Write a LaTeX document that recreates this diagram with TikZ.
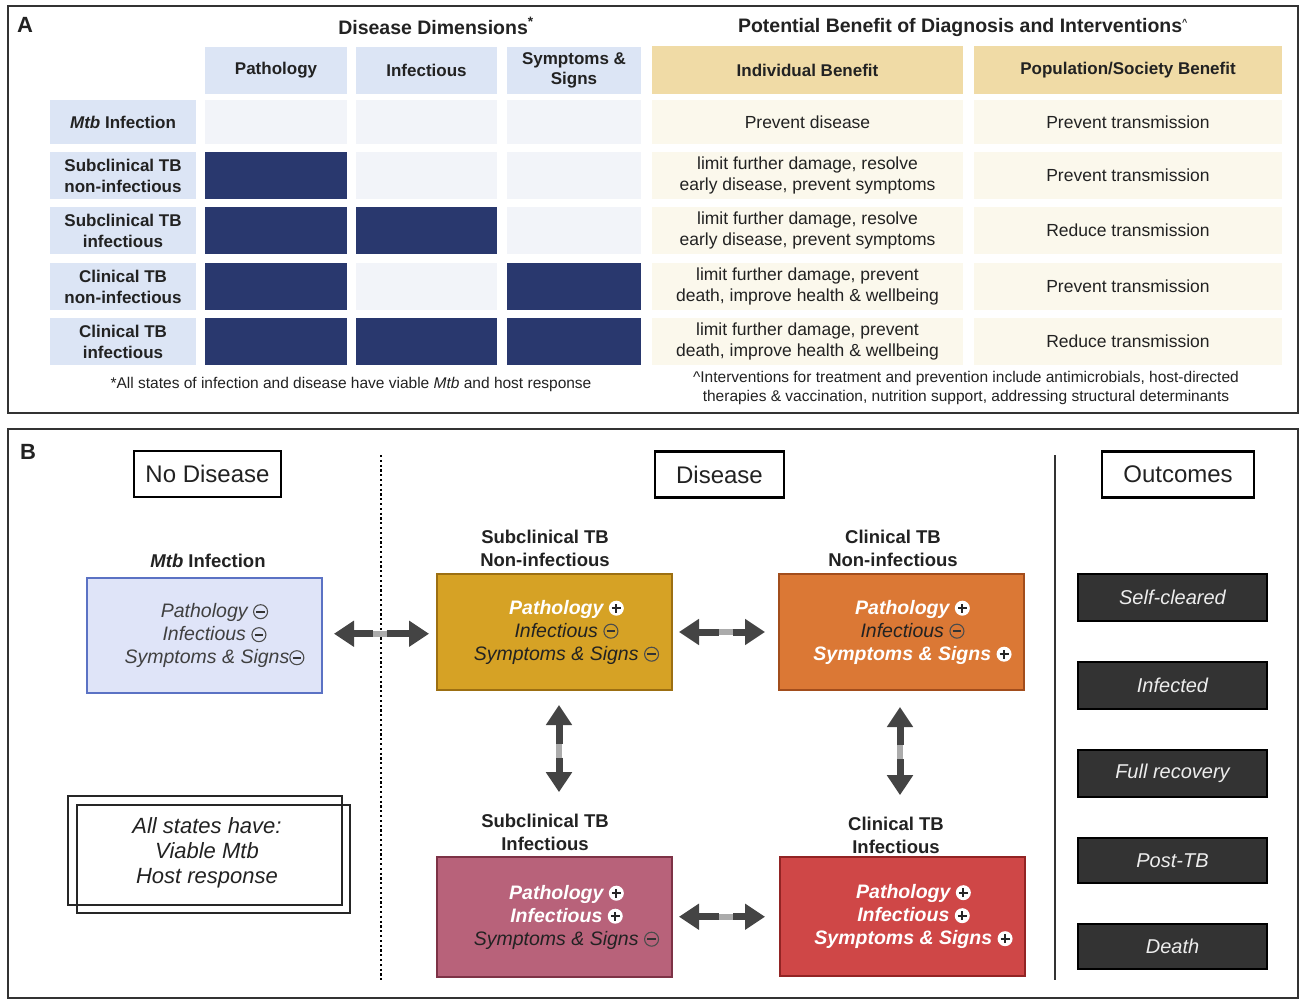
\documentclass[tikz,border=0pt]{standalone}
\usepackage{fontspec}
\setmainfont{Liberation Sans}
\usetikzlibrary{arrows.meta,calc}
\definecolor{frame}{HTML}{333333}
\definecolor{hdrblue}{HTML}{DCE5F5}
\definecolor{lightcell}{HTML}{F2F4F9}
\definecolor{navy}{HTML}{29386E}
\definecolor{tan}{HTML}{F0DBA6}
\definecolor{cream}{HTML}{FBF8EC}
\definecolor{txtdark}{HTML}{222222}
\definecolor{mtbfill}{HTML}{DFE4F8}
\definecolor{mtbdraw}{HTML}{5B72C4}
\definecolor{goldfill}{HTML}{D6A225}
\definecolor{golddraw}{HTML}{9C6F12}
\definecolor{orfill}{HTML}{DB7835}
\definecolor{ordraw}{HTML}{A24D1C}
\definecolor{maufill}{HTML}{B8627A}
\definecolor{maudraw}{HTML}{7D3246}
\definecolor{redfill}{HTML}{CF4747}
\definecolor{reddraw}{HTML}{922424}
\definecolor{outfill}{HTML}{333333}
\definecolor{arrcol}{HTML}{444444}
\newcommand{\pw}{\tikz[baseline=-0.3em]{\fill[white] (0pt,0pt) circle (7.5pt); \draw[line width=2pt, black!85] (-4.5pt,0pt)--(4.5pt,0pt) (0pt,-4.5pt)--(0pt,4.5pt);}}
\newcommand{\md}{\tikz[baseline=-0.3em]{\draw[line width=1.1pt, black!70] (0pt,0pt) circle (7pt); \draw[line width=1.8pt, black!80] (-4.2pt,0pt)--(4.2pt,0pt);}}
\begin{document}
\begin{tikzpicture}[x=1pt,y=-1pt,
  panel/.style={draw=frame, line width=2.8pt},
  cell/.style={inner sep=0pt, align=center, text=txtdark},
  hdr/.style={cell, font=\fontsize{17}{20}\selectfont\bfseries},
  rowlab/.style={cell, fill=hdrblue, minimum width=146pt, minimum height=47pt, font=\fontsize{17}{21}\selectfont\bfseries},
  ben/.style={cell, fill=cream, minimum height=47pt, font=\fontsize{17.5}{21}\selectfont},
  colP/.style={minimum width=142pt, minimum height=47pt},
  colI/.style={minimum width=141pt, minimum height=47pt},
  colS/.style={minimum width=134pt, minimum height=47pt},
  dark/.style={cell, fill=navy},
  light/.style={cell, fill=lightcell},
  title/.style={font=\fontsize{19.5}{23}\selectfont\bfseries, text=txtdark},
  foot/.style={align=center, font=\fontsize{15.5}{18.5}\selectfont, text=txtdark},
  secbox/.style={draw=black, line width=2.5pt, fill=white, minimum height=46pt, inner xsep=10pt, font=\fontsize{24}{28}\selectfont, text=txtdark},
  slabel/.style={align=center, font=\fontsize{18.5}{23}\selectfont\bfseries, text=txtdark},
  state/.style={line width=2pt, minimum width=235pt, inner sep=0pt},
  btxt/.style={align=center, font=\fontsize{19.5}{23}\selectfont\itshape, text=txtdark},
  outc/.style={fill=outfill, draw=black, line width=1.5pt, minimum width=189pt, minimum height=47pt, text=white!93!black, font=\fontsize{20}{24}\selectfont\itshape},
  arr/.style={draw=arrcol, line width=7pt, -{Triangle[length=20pt,width=25pt]}},
  bridge/.style={draw=arrcol!45, line width=6pt}
]
\useasboundingbox (0,0) rectangle (1301,1000);
\fill[white] (0,0) rectangle (1301,1000);

% ---------------- Panel A ----------------
\draw[panel] (8,6) rectangle (1298,413);
\node[font=\fontsize{22}{26}\selectfont\bfseries, text=txtdark] (labA) at (25,25) {A};
\node[title] (tDD) at (436,26) {Disease Dimensions\textsuperscript{*}};
\node[title] (tPB) at (963,28) {Potential Benefit of Diagnosis and Interventions\textsuperscript{\fontsize{9}{9}\selectfont\textasciicircum}};

% column headers
\node[hdr, fill=hdrblue, colP] (hP) at (276,70.5) {Pathology};
\node[hdr, fill=hdrblue, colI] (hI) at (426.5,70.5) {Infectious};
\node[hdr, fill=hdrblue, colS] (hS) at (574,70.5) {Symptoms \&\\Signs};
\node[hdr, fill=tan, minimum width=311pt, minimum height=48pt] (hInd) at (807.5,70) {Individual Benefit};
\node[hdr, fill=tan, minimum width=308pt, minimum height=48pt] (hPop) at (1128,70) {Population/Society Benefit};

% row 1
\node[rowlab, minimum height=44pt] (r1) at (123,122.5) {\textit{Mtb} Infection};
\node[light, colP, minimum height=44pt] (r1P) at (276,122.5) {};
\node[light, colI, minimum height=44pt] (r1I) at (426.5,122.5) {};
\node[light, colS, minimum height=44pt] (r1S) at (574,122.5) {};
\node[ben, minimum width=311pt, minimum height=44pt] (r1B) at (807.5,122.5) {Prevent disease};
\node[ben, minimum width=308pt, minimum height=44pt] (r1Q) at (1128,122.5) {Prevent transmission};
% row 2
\node[rowlab] (r2) at (123,175.5) {Subclinical TB\\non-infectious};
\node[dark, colP] (r2P) at (276,175.5) {};
\node[light, colI] (r2I) at (426.5,175.5) {};
\node[light, colS] (r2S) at (574,175.5) {};
\node[ben, minimum width=311pt] (r2B) at (807.5,175.5) {limit further damage, resolve\\early disease, prevent symptoms};
\node[ben, minimum width=308pt] (r2Q) at (1128,175.5) {Prevent transmission};
% row 3
\node[rowlab] (r3) at (123,230.5) {Subclinical TB\\infectious};
\node[dark, colP] (r3P) at (276,230.5) {};
\node[dark, colI] (r3I) at (426.5,230.5) {};
\node[light, colS] (r3S) at (574,230.5) {};
\node[ben, minimum width=311pt] (r3B) at (807.5,230.5) {limit further damage, resolve\\early disease, prevent symptoms};
\node[ben, minimum width=308pt] (r3Q) at (1128,230.5) {Reduce transmission};
% row 4
\node[rowlab] (r4) at (123,286.5) {Clinical TB\\non-infectious};
\node[dark, colP] (r4P) at (276,286.5) {};
\node[light, colI] (r4I) at (426.5,286.5) {};
\node[dark, colS] (r4S) at (574,286.5) {};
\node[ben, minimum width=311pt] (r4B) at (807.5,286.5) {limit further damage, prevent\\death, improve health \& wellbeing};
\node[ben, minimum width=308pt] (r4Q) at (1128,286.5) {Prevent transmission};
% row 5
\node[rowlab] (r5) at (123,341.5) {Clinical TB\\infectious};
\node[dark, colP] (r5P) at (276,341.5) {};
\node[dark, colI] (r5I) at (426.5,341.5) {};
\node[dark, colS] (r5S) at (574,341.5) {};
\node[ben, minimum width=311pt] (r5B) at (807.5,341.5) {limit further damage, prevent\\death, improve health \& wellbeing};
\node[ben, minimum width=308pt] (r5Q) at (1128,341.5) {Reduce transmission};

\node[foot] (fL) at (351,384) {*All states of infection and disease have viable \textit{Mtb} and host response};
\node[foot] (fR) at (966,388) {\textasciicircum Interventions for treatment and prevention include antimicrobials, host-directed\\therapies \& vaccination, nutrition support, addressing structural determinants};

% ---------------- Panel B ----------------
\draw[panel] (8,429) rectangle (1298,998);
\node[font=\fontsize{22}{26}\selectfont\bfseries, text=txtdark] (labB) at (28,452) {B};
\node[secbox, minimum width=147pt] (sND) at (207.5,474) {No Disease};
\node[secbox, minimum width=129pt] (sD) at (719.5,474.5) {Disease};
\node[secbox, minimum width=152pt] (sO) at (1178,474.5) {Outcomes};

\draw[black, line width=2.6pt, dash pattern=on 2.2pt off 2.6pt] (381,455) -- (381,980);
\draw[frame, line width=2.6pt] (1055,455) -- (1055,980);

% Mtb infection
\node[slabel] (mtbl) at (208,561) {\textit{Mtb} Infection};
\node[state, fill=mtbfill, draw=mtbdraw, minimum height=115pt] (mtb) at (204.5,635.5) {};
\node[btxt, text=black!75] (mtbt) at ([xshift=10pt]mtb.center) {Pathology \md\\Infectious \md\\Symptoms \& Signs\md};

% Subclinical non-infectious
\node[slabel] (snil) at (545,548) {Subclinical TB\\Non-infectious};
\node[state, fill=goldfill, draw=golddraw, minimum height=116pt] (sni) at (554.5,632) {};
\node[btxt] (snit) at ([xshift=12pt]sni.center) {{\color{white}\bfseries Pathology} \pw\\Infectious \md\\Symptoms \& Signs \md};

% Clinical non-infectious
\node[slabel] (cnil) at (893,548) {Clinical TB\\Non-infectious};
\node[state, fill=orfill, draw=ordraw, minimum height=116pt, minimum width=245pt] (cni) at (901.5,632) {};
\node[btxt] (cnit) at ([xshift=11pt]cni.center) {{\color{white}\bfseries Pathology} \pw\\Infectious \md\\{\color{white}\bfseries Symptoms \& Signs} \pw};

% Subclinical infectious
\node[slabel] (sil) at (545,832) {Subclinical TB\\Infectious};
\node[state, fill=maufill, draw=maudraw, minimum height=120pt] (si) at (554.5,917) {};
\node[btxt] (sit) at ([xshift=12pt]si.center) {{\color{white}\bfseries Pathology} \pw\\{\color{white}\bfseries Infectious} \pw\\Symptoms \& Signs \md};

% Clinical infectious
\node[slabel] (cil) at (896,835) {Clinical TB\\Infectious};
\node[state, fill=redfill, draw=reddraw, minimum height=119pt, minimum width=245pt] (ci) at (902.5,916.5) {};
\node[btxt, text=white] (cit) at ([xshift=11pt]ci.center) {{\bfseries Pathology} \pw\\{\bfseries Infectious} \pw\\{\bfseries Symptoms \& Signs} \pw};

% arrows
\coordinate (m1) at ($(mtb.east)!0.5!(sni.west)$);
\draw[bridge] ([xshift=-9pt]m1) -- ([xshift=9pt]m1);
\draw[arr, shorten >=11pt] ([xshift=-7pt]m1) -- (mtb.east |- m1);
\draw[arr, shorten >=7pt] ([xshift=7pt]m1) -- (sni.west |- m1);

\coordinate (m2) at ($(sni.east)!0.5!(cni.west)$);
\draw[bridge] ([xshift=-9pt]m2) -- ([xshift=9pt]m2);
\draw[arr, shorten >=6pt] ([xshift=-7pt]m2) -- (sni.east |- m2);
\draw[arr, shorten >=13pt] ([xshift=7pt]m2) -- (cni.west |- m2);

\coordinate (m3) at ($(si.east)!0.5!(ci.west)$);
\draw[bridge] ([xshift=-9pt]m3) -- ([xshift=9pt]m3);
\draw[arr, shorten >=6pt] ([xshift=-7pt]m3) -- (si.east |- m3);
\draw[arr, shorten >=14pt] ([xshift=7pt]m3) -- (ci.west |- m3);

\coordinate (v1) at ($([xshift=4.5pt]sni.south)!0.5!([xshift=4.5pt]sni.south |- sil.north)$);
\draw[bridge] ([yshift=9pt]v1) -- ([yshift=-9pt]v1);
\draw[arr, shorten >=14pt] ([yshift=7pt]v1) -- (v1 |- sni.south);
\draw[arr, shorten >=18pt] ([yshift=-7pt]v1) -- (v1 |- sil.north);

\coordinate (v2) at ($([xshift=-1.5pt]cni.south)!0.5!([xshift=-1.5pt]cni.south |- cil.north)$);
\draw[bridge] ([yshift=9pt]v2) -- ([yshift=-9pt]v2);
\draw[arr, shorten >=16pt] ([yshift=7pt]v2) -- (v2 |- cni.south);
\draw[arr, shorten >=18pt] ([yshift=-7pt]v2) -- (v2 |- cil.north);

% all states box
\draw[black!85, line width=2.2pt] (68,796) rectangle (342,905);
\draw[black!85, line width=2.2pt] (77,805) rectangle (350,913);
\node[align=center, font=\fontsize{22}{25}\selectfont\itshape, text=txtdark] (allst) at (207,853) {All states have:\\Viable Mtb\\Host response};

% outcomes
\node[outc] (o1) at (1172.5,597.5) {Self-cleared};
\node[outc] (o2) at (1172.5,685.5) {Infected};
\node[outc] (o3) at (1172.5,773.5) {Full recovery};
\node[outc, minimum height=45pt] (o4) at (1172.5,860.5) {Post-TB};
\node[outc, minimum height=45pt] (o5) at (1172.5,946.5) {Death};
\end{tikzpicture}
\end{document}
